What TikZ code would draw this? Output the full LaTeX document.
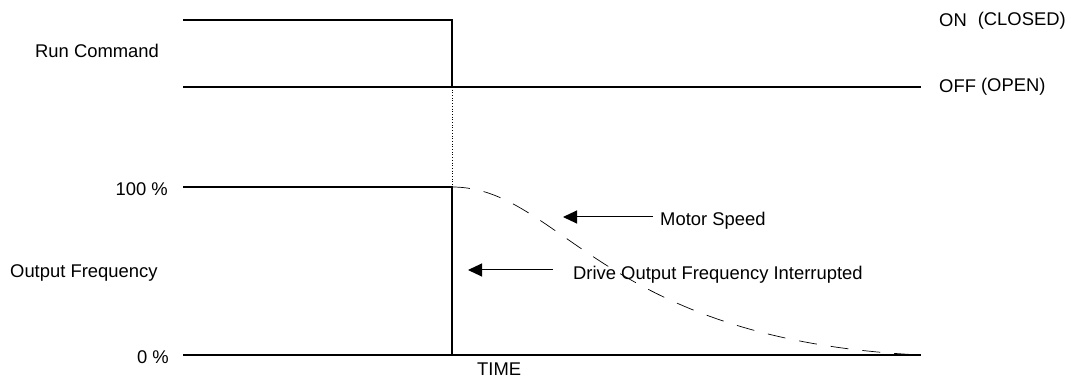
\documentclass[tikz,border=0pt]{standalone}
\usepackage{fontspec}
\setmainfont{Liberation Sans}
\usetikzlibrary{arrows.meta}

\tikzset{
  lbl/.style={inner sep=0pt, font=\fontsize{18.4}{22}\selectfont},
  sig/.style={line width=2pt},
  ptr/.style={line width=1pt, -{Triangle[length=14pt,width=13pt]}},
}

\begin{document}
\begin{tikzpicture}[x=1pt,y=-1pt]
\useasboundingbox (0,0) rectangle (1071,379);
% run command
\draw[sig] (183,20) -- (452,20) -- (452,87);
\draw[sig] (183,87) -- (921,87);
\draw[line width=0.7pt, dotted] (452,87) -- (452,187);
% output frequency
\draw[sig] (183,187) -- (452,187) -- (452,355);
\draw[sig] (183,355) -- (921,355);
\draw[line width=0.7pt, dash pattern=on 18pt off 14pt] (452,187) .. controls (560,187) and (600,340) .. (921,355);
% labels
\node[lbl, anchor=base west] (run) at (35,58) {Run Command};
\node[lbl, anchor=base east] (hundred) at (168,196) {100 \%};
\node[lbl, anchor=base west] (outf) at (10,278) {Output Frequency};
\node[lbl, anchor=base east] (zero) at (169,363) {0 \%};
\node[lbl, anchor=base west] (on) at (939,27) {ON\hspace{11pt}\raisebox{1.2pt}{(CLOSED)}};
\node[lbl, anchor=base west] (off) at (939,93) {OFF \raisebox{1.8pt}{(OPEN)}};
\node[lbl, anchor=base west] (time) at (477,375) {TIME};
\node[lbl, anchor=base west] (motor) at (660,226) {Motor Speed};
\node[lbl, anchor=base west] (drive) at (573,280) {Drive Output Frequency Interrupted};
% pointers
\coordinate (motorTip) at (563,217);
\coordinate (driveTip) at (468,270);
\draw[ptr] ([xshift=-7pt]motor.west |- motorTip) -- (motorTip);
\draw[ptr] ([xshift=-20pt]drive.west |- driveTip) -- (driveTip);
\end{tikzpicture}
\end{document}
